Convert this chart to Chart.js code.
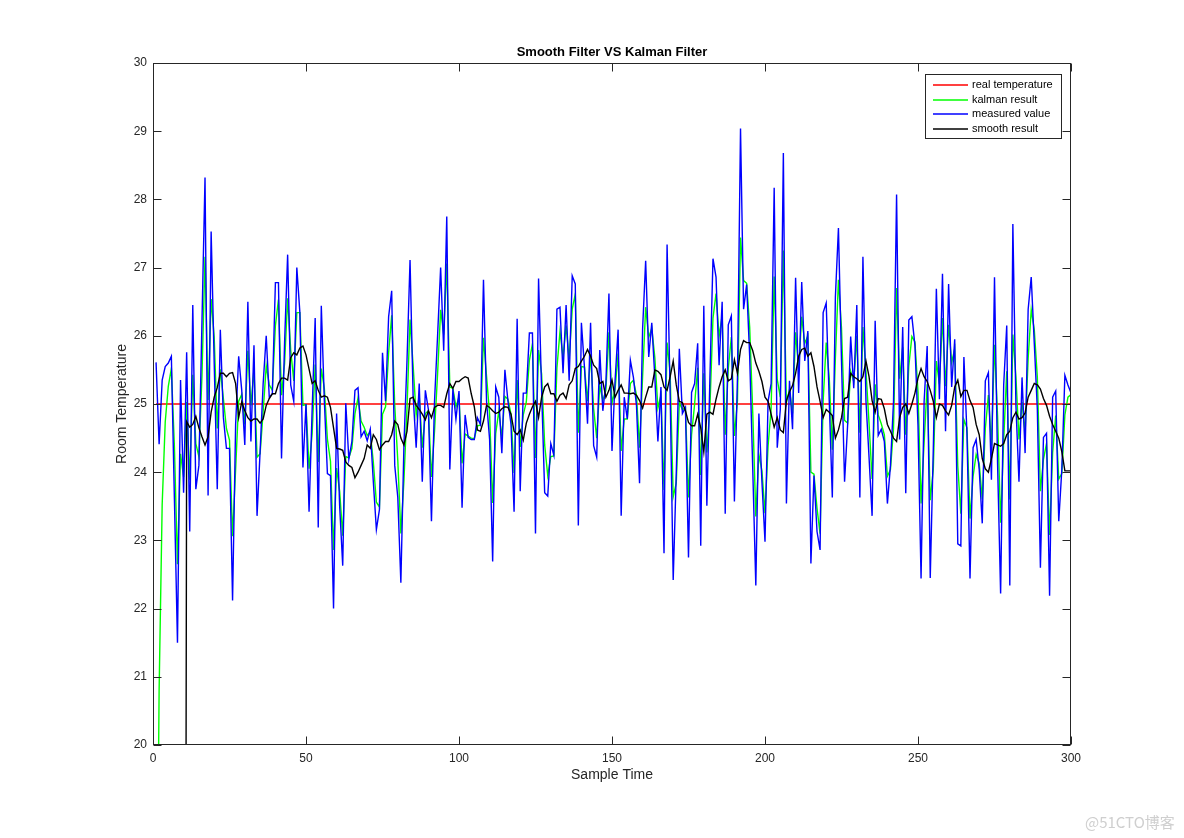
<!DOCTYPE html>
<html>
<head>
<meta charset="utf-8">
<title>Smooth Filter VS Kalman Filter</title>
<script src="https://cdn.jsdelivr.net/npm/chart.js@4.4.0/dist/chart.umd.min.js"></script>
<style>
  html, body { margin: 0; padding: 0; background: #fff; }
  canvas { display: block; }
</style>
</head>
<body>
<canvas id="filterChart" width="1184" height="838"></canvas>
<script>
// sample index 1..300 (x axis)
const sampleTime = Array.from({ length: 300 }, (_, i) => i + 1);

// real temperature is a flat line
const realTime = [1, 300];
const realTemperature = [25, 25];

const measuredValue = [
  25.61, 24.41, 25.35, 25.55, 25.6, 25.7, 23.6, 21.5, 25.35, 23.7,
  25.76, 23.13, 26.45, 23.75, 24.1, 26.2, 28.32, 23.66, 27.53, 25.6,
  23.75, 26.09, 24.8, 24.35, 24.35, 22.12, 24.7, 25.7, 25.2, 24.4,
  26.5, 24.45, 25.86, 23.36, 24.3, 25.3, 26.0, 25.1, 25.15, 26.78,
  26.78, 24.2, 25.9, 27.19, 25.28, 25.04, 27.0, 26.34, 24.07, 25.0,
  23.42, 24.9, 26.26, 23.19, 26.44, 25.04, 23.98, 23.95, 22.0, 24.86,
  23.5, 22.63, 25.01, 24.19, 24.45, 25.2, 25.24, 24.52, 24.6, 24.46,
  24.63, 23.86, 23.16, 23.45, 25.75, 25.04, 26.28, 26.66, 24.1, 23.63,
  22.38, 24.39, 25.63, 27.11, 25.13, 24.36, 25.3, 23.86, 25.2, 24.92,
  23.28, 25.04, 26.0, 27.0, 25.78, 27.75, 24.04, 25.22, 24.78, 25.19,
  23.48, 24.84, 24.51, 24.48, 24.48, 24.8, 24.7, 26.82, 25.04, 24.48,
  22.69, 25.25, 25.1, 24.28, 25.5, 25.04, 24.7, 23.42, 26.25, 23.72,
  25.16, 25.16, 26.04, 26.04, 23.1, 26.84, 25.2, 23.7, 23.65, 24.42,
  24.25, 26.39, 26.42, 25.45, 26.45, 25.34, 26.88, 26.76, 23.22, 26.19,
  25.54, 24.71, 26.19, 24.39, 24.22, 25.79, 24.9, 25.3, 26.62, 24.31,
  25.34, 26.09, 23.36, 25.1, 24.78, 25.64, 25.39, 24.98, 23.84, 26.1,
  27.1, 25.69, 26.19, 25.39, 24.45, 25.25, 22.81, 27.34, 25.16, 22.42,
  23.98, 25.81, 24.86, 24.95, 22.75, 25.17, 25.3, 25.89, 22.92, 26.44,
  23.51, 25.39, 27.13, 26.86, 25.57, 26.5, 23.39, 26.16, 26.29, 23.57,
  25.39, 29.04, 26.39, 26.75, 25.69, 24.04, 22.34, 24.86, 23.86, 22.98,
  25.04, 25.3, 28.17, 24.36, 24.92, 28.68, 23.54, 25.34, 24.63, 26.85,
  25.16, 26.79, 25.63, 26.07, 22.66, 23.95, 23.13, 22.86, 26.34, 26.48,
  25.04, 23.63, 26.57, 27.58, 25.63, 23.86, 24.69, 25.99, 25.23, 26.45,
  23.63, 27.16, 25.04, 24.22, 23.36, 26.22, 24.54, 24.63, 24.45, 23.54,
  24.1, 25.04, 28.07, 24.48, 26.13, 23.69, 26.23, 26.28, 25.86, 24.69,
  22.44, 25.04, 25.85, 22.45, 24.34, 26.69, 25.07, 26.91, 24.6, 26.76,
  25.25, 25.95, 22.95, 22.92, 25.69, 24.57, 22.44, 24.36, 24.48, 24.04,
  23.25, 25.34, 25.46, 23.89, 26.86, 24.13, 22.22, 25.28, 26.15, 22.34,
  27.64, 24.98, 23.86, 25.39, 24.28, 26.39, 26.86, 25.89, 24.92, 22.6,
  24.51, 24.57, 22.19, 25.1, 25.19, 23.28, 24.04, 25.42, 25.28, 25.16
];

const kalmanResult = [
  15.4, 20.81, 23.53, 24.74, 25.26, 25.52, 24.37, 22.65, 24.27, 23.93,
  25.03, 23.89, 25.43, 24.42, 24.23, 25.41, 27.16, 25.06, 26.54, 25.98,
  24.64, 25.51, 25.08, 24.64, 24.47, 23.06, 24.04, 25.04, 25.14, 24.70,
  25.78, 24.98, 25.51, 24.22, 24.27, 24.89, 25.56, 25.28, 25.2, 26.15,
  26.53, 25.13, 25.59, 26.55, 25.79, 25.34, 26.34, 26.34, 24.98, 24.99,
  24.05, 24.56, 25.58, 24.15, 25.52, 25.23, 24.48, 24.16, 22.86, 24.06,
  23.72, 23.07, 24.23, 24.21, 24.35, 24.86, 25.09, 24.75, 24.66, 24.54,
  24.59, 24.15, 23.56, 23.49, 24.85, 24.96, 25.75, 26.30, 24.98, 24.17,
  23.10, 23.87, 24.93, 26.24, 25.57, 24.84, 25.12, 24.36, 24.86, 24.90,
  23.93, 24.60, 25.44, 26.38, 26.02, 27.06, 25.25, 25.23, 24.96, 25.10,
  24.13, 24.56, 24.53, 24.50, 24.49, 24.68, 24.69, 25.97, 25.41, 24.85,
  23.55, 24.57, 24.89, 24.52, 25.11, 25.07, 24.85, 23.99, 25.35, 24.37,
  24.84, 25.03, 25.64, 25.88, 24.21, 25.79, 25.44, 24.40, 23.95, 24.23,
  24.24, 25.53, 26.06, 25.69, 26.15, 25.66, 26.39, 26.61, 24.58, 25.55,
  25.54, 25.04, 25.73, 24.93, 24.50, 25.27, 25.05, 25.20, 26.05, 25.01,
  25.21, 25.74, 24.31, 24.78, 24.78, 25.30, 25.35, 25.13, 24.36, 25.40,
  26.42, 25.98, 26.11, 25.68, 24.94, 25.13, 23.74, 25.90, 25.46, 23.64,
  23.84, 25.02, 24.92, 24.94, 23.63, 24.55, 25.0, 25.53, 23.96, 25.45,
  24.29, 24.95, 26.26, 26.62, 25.99, 26.30, 24.55, 25.52, 25.98, 24.53,
  25.05, 27.44, 26.81, 26.77, 26.12, 24.87, 23.35, 24.26, 24.02, 23.40,
  24.38, 24.93, 26.87, 25.36, 25.10, 27.25, 25.02, 25.21, 24.86, 26.05,
  25.52, 26.28, 25.89, 26.0, 24.0, 23.97, 23.47, 23.10, 25.04, 25.90,
  25.38, 24.33, 25.67, 26.82, 26.11, 24.76, 24.72, 25.48, 25.33, 26.0,
  24.58, 26.13, 25.48, 24.72, 23.90, 25.29, 24.84, 24.71, 24.55, 23.94,
  24.04, 24.64, 26.70, 25.37, 25.83, 24.55, 25.56, 25.99, 25.91, 25.18,
  23.54, 24.44, 25.29, 23.59, 24.04, 25.63, 25.29, 26.26, 25.26, 26.16,
  25.61, 25.81, 24.09, 23.39, 24.77, 24.65, 23.32, 23.94, 24.26, 24.13,
  23.60, 24.64, 25.13, 24.39, 25.87, 24.83, 23.26, 24.47, 25.48, 23.60,
  26.02, 25.40, 24.48, 25.03, 24.58, 25.67, 26.38, 26.09, 25.39, 23.72,
  24.19, 24.42, 23.08, 24.29, 24.83, 23.90, 23.98, 24.84, 25.10, 25.14
];

// first 10 samples of the smoother are 0 (window not yet filled)
const smoothResult = [
  0, 0, 0, 0, 0, 0, 0, 0, 0, 0,
  24.74, 24.66, 24.7, 24.82, 24.65, 24.52, 24.4, 24.52, 24.88, 25.1,
  25.24, 25.45, 25.45, 25.4, 25.45, 25.46, 25.3, 24.8, 25.03, 24.9,
  24.8, 24.75, 24.78, 24.78, 24.72, 24.78, 24.98, 25.08, 25.15, 25.15,
  25.3, 25.38, 25.38, 25.35, 25.68, 25.75, 25.72, 25.82, 25.85, 25.72,
  25.51, 25.3, 25.34, 25.2, 25.1, 25.12, 25.1, 24.95, 24.65, 24.35,
  24.34, 24.32, 24.15, 24.1, 24.07, 23.92, 24.0, 24.1, 24.2, 24.4,
  24.35, 24.55, 24.48, 24.33, 24.4, 24.45, 24.45, 24.55, 24.75, 24.7,
  24.5, 24.4, 24.6, 25.08, 25.1, 24.98, 24.92, 24.85, 24.77, 24.9,
  24.8, 24.95, 24.98, 24.98, 24.95, 25.15, 25.3, 25.23, 25.33, 25.33,
  25.37, 25.4, 25.38, 25.15, 24.96, 24.62, 24.6, 24.75, 24.98, 24.95,
  24.9, 24.86, 24.88, 24.93, 24.96, 24.95, 24.85, 24.6, 24.55, 24.62,
  24.47, 24.72, 24.85, 24.96, 25.04, 24.8, 25.1, 25.25, 25.3, 25.15,
  25.15, 25.04, 25.13, 25.16, 25.08, 25.28, 25.34, 25.52, 25.55, 25.63,
  25.7, 25.8, 25.7, 25.57, 25.52, 25.3, 25.33, 25.1, 25.2, 25.35,
  25.1, 25.2, 25.28, 25.16, 25.16, 25.15, 25.16, 25.13, 25.05, 24.94,
  25.1, 25.25, 25.25, 25.5, 25.48, 25.43, 25.25, 25.2, 25.4, 25.63,
  25.28, 25.04, 25.02, 24.9, 24.73, 24.68, 24.68, 24.85, 24.65, 24.3,
  24.85, 24.88, 24.85, 25.07, 25.25, 25.4, 25.5, 25.34, 25.37, 25.65,
  25.45, 25.8, 25.93, 25.9, 25.9, 25.78, 25.6, 25.48, 25.33, 25.1,
  25.04, 24.85, 24.66, 24.8, 24.62, 24.58, 25.05, 25.18, 25.27, 25.45,
  25.7, 25.8, 25.82, 25.7, 25.75, 25.55, 25.25, 25.04, 24.8, 24.92,
  24.88, 24.83, 24.5, 24.62, 24.8, 25.08, 25.1, 25.45, 25.4, 25.37,
  25.33, 25.4, 25.63, 25.4, 25.05, 24.88, 25.08, 25.07, 24.93, 24.7,
  24.6, 24.5, 24.45, 24.8, 24.95, 25.0, 24.86, 25.0, 25.16, 25.38,
  25.52, 25.4, 25.33, 25.2, 25.04, 24.8, 25.0, 24.98, 24.9, 24.84,
  24.98, 25.25, 25.35, 25.11, 25.2, 25.2, 25.05, 24.95, 24.7, 24.55,
  24.2, 24.05, 24.0, 24.2, 24.42, 24.4, 24.38, 24.42, 24.55, 24.6,
  24.8, 24.88, 24.78, 24.8, 24.87, 25.1, 25.2, 25.3, 25.28, 25.22,
  25.08, 24.98, 24.82, 24.7, 24.6, 24.5, 24.3, 24.02, 24.02, 24.02
];

const xTicks = [0, 50, 100, 150, 200, 250, 300];
const yTicks = [20, 21, 22, 23, 24, 25, 26, 27, 28, 29, 30];

const FONT = '"Liberation Sans", Arial, Helvetica, sans-serif';
const AXIS_COLOR = '#262626';
Chart.defaults.font.family = FONT;

// matlab-like box, inward ticks, title, legend in the corner
const matlabAxes = {
  id: 'matlabAxes',
  afterDraw(chart) {
    const { ctx, chartArea: a, scales: { x, y } } = chart;
    const L = Math.round(a.left) + 0.5, R = Math.round(a.right) - 0.5;
    const T = Math.round(a.top) + 0.5, B = Math.round(a.bottom) - 0.5;
    ctx.save();
    ctx.strokeStyle = AXIS_COLOR;
    ctx.lineWidth = 1;
    ctx.strokeRect(L, T, R - L, B - T);

    ctx.beginPath();
    yTicks.forEach(v => {
      const p = Math.round(y.getPixelForValue(v)) + 0.5;
      ctx.moveTo(L, p); ctx.lineTo(L + 8, p);
      ctx.moveTo(R, p); ctx.lineTo(R - 8, p);
    });
    xTicks.forEach(v => {
      const p = Math.round(x.getPixelForValue(v)) + 0.5;
      ctx.moveTo(p, B); ctx.lineTo(p, B - 8);
      ctx.moveTo(p, T); ctx.lineTo(p, T + 8);
    });
    ctx.stroke();

    // title
    ctx.fillStyle = '#000';
    ctx.font = 'bold 13px ' + FONT;
    ctx.textAlign = 'center';
    ctx.textBaseline = 'alphabetic';
    ctx.fillText('Smooth Filter VS Kalman Filter', (a.left + a.right) / 2, 56);

    // legend
    const bx = 925, by = 74, bw = 136, bh = 64;
    ctx.fillStyle = '#fff';
    ctx.fillRect(bx, by, bw, bh);
    ctx.strokeStyle = AXIS_COLOR;
    ctx.strokeRect(bx + 0.5, by + 0.5, bw, bh);
    ctx.font = '11px ' + FONT;
    ctx.textAlign = 'left';
    ctx.textBaseline = 'middle';
    chart.data.datasets.forEach((ds, i) => {
      const ry = Math.round(by + 11 + i * 14.5);
      ctx.strokeStyle = ds.borderColor;
      ctx.lineWidth = 1.3;
      ctx.beginPath();
      ctx.moveTo(bx + 8, ry); ctx.lineTo(bx + 43, ry);
      ctx.stroke();
      ctx.fillStyle = '#000';
      ctx.fillText(ds.label, bx + 47, ry);
    });

    // watermark
    ctx.fillStyle = '#cfcfcf';
    ctx.font = '15px "Noto Sans CJK SC", ' + FONT;
    ctx.textBaseline = 'alphabetic';
    ctx.fillText('@51CTO博客', 1085, 828);
    ctx.restore();
  }
};

new Chart(document.getElementById('filterChart'), {
  type: 'line',
  data: {
    labels: sampleTime,
    datasets: [
      {
        label: 'real temperature',
        data: realTime.map((t, i) => ({ x: t, y: realTemperature[i] })),
        borderColor: '#ff0000',
        order: 4
      },
      { label: 'kalman result', data: kalmanResult, borderColor: '#00ff00', order: 3 },
      { label: 'measured value', data: measuredValue, borderColor: '#0000ff', order: 2 },
      { label: 'smooth result', data: smoothResult, borderColor: '#000000', order: 1 }
    ]
  },
  options: {
    responsive: false,
    animation: false,
    devicePixelRatio: 1,
    layout: { padding: { top: 63, right: 113, bottom: 0, left: 0 } },
    elements: {
      point: { radius: 0, hoverRadius: 0 },
      line: { borderWidth: 1.4, tension: 0 }
    },
    plugins: {
      legend: { display: false },
      title: { display: false },
      tooltip: { enabled: false }
    },
    scales: {
      x: {
        type: 'linear',
        min: 0,
        max: 300,
        ticks: { stepSize: 50, color: AXIS_COLOR, font: { size: 12 }, padding: 6, maxRotation: 0 },
        grid: { display: false, drawTicks: false },
        border: { display: false },
        title: {
          display: true, text: 'Sample Time', color: AXIS_COLOR,
          font: { size: 14 }, padding: { top: 0, bottom: 54 }
        },
        afterFit(scale) { scale.height = 93; }
      },
      y: {
        min: 20,
        max: 30,
        ticks: { stepSize: 1, color: AXIS_COLOR, font: { size: 12 }, padding: 6 },
        grid: { display: false, drawTicks: false },
        border: { display: false },
        title: {
          display: true, text: 'Room Temperature', color: AXIS_COLOR,
          font: { size: 14 }, padding: { top: 114, bottom: 0 }
        },
        afterFit(scale) { scale.width = 153; }
      }
    }
  },
  plugins: [matlabAxes]
});
</script>
</body>
</html>
